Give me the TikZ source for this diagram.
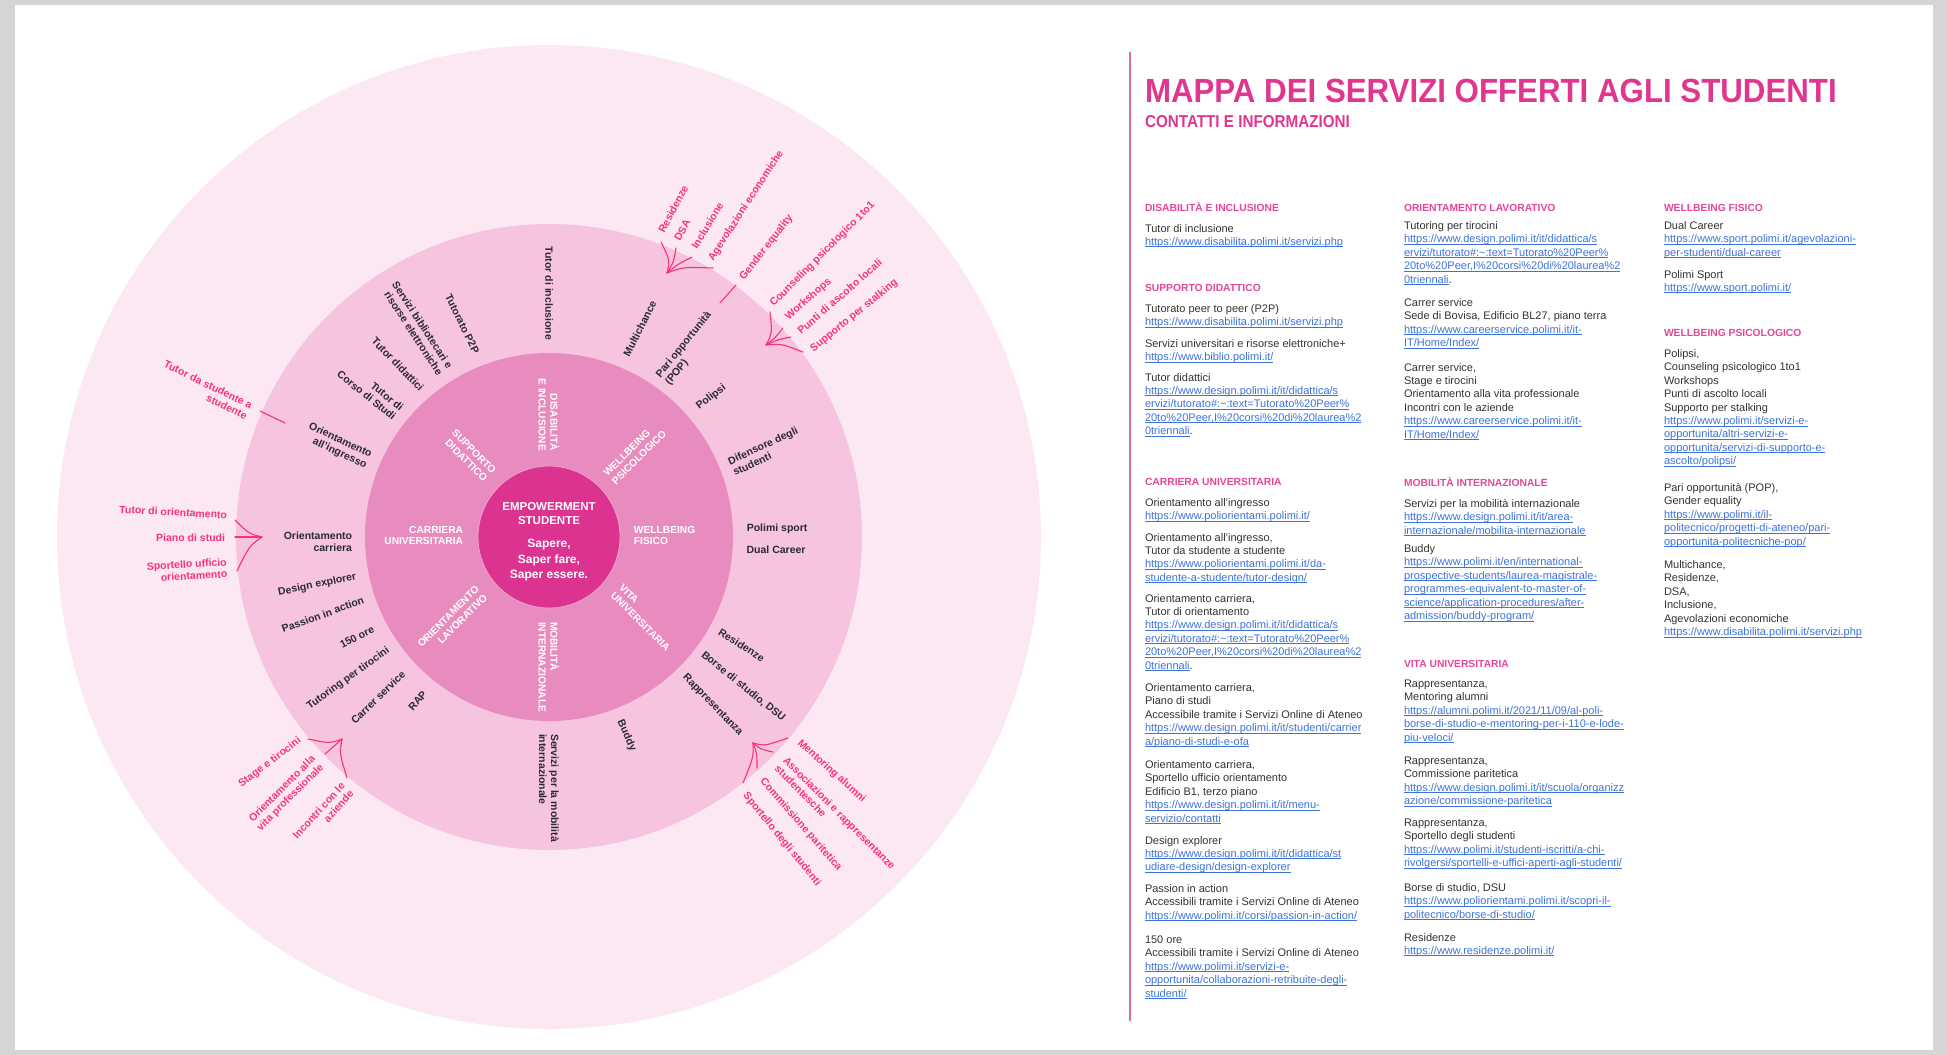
\documentclass[tikz,border=0pt]{standalone}
\usepackage{fontspec}
\setmainfont{Liberation Sans}
\usepackage{graphicx}
\usetikzlibrary{calc}
\definecolor{bgout}{HTML}{FCE8F2}
\definecolor{ringc}{HTML}{F6C4DF}
\definecolor{ringb}{HTML}{E88BBF}
\definecolor{corec}{HTML}{DC3290}
\definecolor{coreline}{HTML}{F0A3CB}
\definecolor{pinkt}{HTML}{F7327E}
\definecolor{titlec}{HTML}{E0368F}
\definecolor{headc}{HTML}{E4479A}
\definecolor{lkc}{HTML}{3C73DA}
\definecolor{bodyc}{HTML}{333333}
\definecolor{labc}{HTML}{2B2B2B}
\definecolor{framec}{HTML}{D5D5D5}
\definecolor{vlinec}{HTML}{E36AA5}
\newcommand\lk[1]{{\color{lkc}\setbox0\hbox{#1}\rlap{\rule[-1.7pt]{\wd0}{0.65pt}}\box0}}
\newcommand\st{\rule{0pt}{12pt}}
\newcommand\lab[7]{\node[#4,rotate=#3,anchor=#5] (#6) at ($(C)+(#1:#2)$) {#7};}
\newcommand\hd[4]{\node[colhead] (#3) at (#1,-#2) {\st #4};}
\newcommand\blk[4]{\node[colblk] (#3) at (#1,-#2) {\st #4};}
\tikzset{
 every node/.style={inner sep=0pt, outer sep=0pt},
 seclab/.style={text=white, font=\fontsize{10.2}{11.8}\selectfont\bfseries},
 ringlab/.style={text=labc, font=\fontsize{10.5}{12}\selectfont\bfseries},
 pinklab/.style={text=pinkt, font=\fontsize{10.5}{11.8}\selectfont\bfseries},
 strand/.style={draw=pinkt, line width=1.1pt, line cap=round},
 colhead/.style={anchor=north west, yshift=12pt, text=headc, font=\fontsize{10.3}{13.4}\selectfont\bfseries},
 colblk/.style={anchor=north west, yshift=12pt, align=left, text=bodyc, font=\fontsize{11}{13.4}\selectfont},
}
\begin{document}
\begin{tikzpicture}[x=1pt,y=1pt]
\useasboundingbox (0,0) rectangle (1947,-1055);
\fill[framec] (0,0) rectangle (1947,-1055);
\fill[white] (15,-5) rectangle (1933,-1050);
\coordinate (C) at (549,-537);
\fill[bgout] (C) circle (492);
\fill[ringc] (C) circle (313);
\fill[ringb] (C) circle (184);
\filldraw[fill=corec, draw=coreline, line width=0.8pt] (C) circle (71);

% centre
\node[align=center, text=white, font=\fontsize{11.5}{14}\selectfont\bfseries] (emp) at (549,-514) {EMPOWERMENT\\STUDENTE};
\node[align=center, text=white, font=\fontsize{12}{15.5}\selectfont\bfseries] (sap) at (549,-560.5) {Sapere,\\Saper fare,\\Saper essere.};

% sector labels
\lab{1}{85}{0}{seclab,align=left}{west}{wf}{WELLBEING\\FISICO}
\lab{44}{84}{45}{seclab,align=left}{west}{wp}{WELLBEING\\PSICOLOGICO}
\lab{90}{86}{-90}{seclab,align=right}{east}{di}{DISABILITÀ\\E INCLUSIONE}
\lab{134}{85}{-45}{seclab,align=right}{east}{sd}{SUPPORTO\\DIDATTICO}
\lab{179}{86}{0}{seclab,align=right}{east}{cu}{CARRIERA\\UNIVERSITARIA}
\lab{219}{87}{45}{seclab,align=right}{east}{ol}{ORIENTAMENTO\\LAVORATIVO}
\lab{-90}{85}{-90}{seclab,align=left}{west}{mi}{MOBILITÀ\\INTERNAZIONALE}
\lab{-38}{86}{-45}{seclab,align=left}{west}{vu}{VITA\\UNIVERSITARIA}

% services ring
\lab{90}{197}{-90}{ringlab,align=right}{east}{t1}{Tutor di inclusione}
\lab{111.5}{198}{-64}{ringlab}{east}{t2}{Tutorato P2P}
\lab{122}{196}{-57}{ringlab,align=right}{east}{t3}{Servizi bibliotecari e\\risorse elettroniche}
\lab{130.7}{195}{-46}{ringlab}{east}{t4}{Tutor didattici}
\lab{140.6}{195}{-39}{ringlab,align=right}{east}{t5}{Tutor di\\Corso di Studi}
\lab{157}{196}{-25}{ringlab,align=right}{east}{t6}{Orientamento\\all'ingresso}
\lab{181.5}{197}{0}{ringlab,align=right}{east}{t7}{Orientamento\\carriera}
\lab{191.6}{197}{12}{ringlab}{east}{t8}{Design explorer}
\lab{198.7}{196}{20}{ringlab}{east}{t9}{Passion in action}
\lab{207.5}{198}{27}{ringlab}{east}{t10}{150 ore}
\lab{215}{196}{36}{ringlab}{east}{t11}{Tutoring per tirocini}
\lab{223}{199}{44}{ringlab}{east}{t12}{Carrer service}
\lab{231.4}{199}{49}{ringlab}{east}{t13}{RAP}
\lab{-90}{197}{-90}{ringlab,align=left}{west}{t14}{Servizi per la mobilità\\internazionale}
\lab{-68.9}{197}{-66}{ringlab}{west}{t15}{Buddy}
\lab{-45.7}{194}{-46}{ringlab}{west}{t16}{Rappresentanza}
\lab{-37.2}{193}{-39}{ringlab}{west}{t17}{Borse di studio, DSU}
\lab{-29}{195}{-32}{ringlab}{west}{t18}{Residenze}
\lab{-3.6}{198}{0}{ringlab}{west}{t19}{Dual Career}
\lab{2.5}{198}{0}{ringlab}{west}{t20}{Polimi sport}
\lab{21}{195}{25}{ringlab,align=left}{west}{t21}{Difensore degli\\studenti}
\lab{41}{197}{38}{ringlab}{west}{t22}{Polipsi}
\lab{54}{194}{51}{ringlab,align=left}{west}{t23}{Pari opportunità\\(POP)}
\lab{67}{197}{63}{ringlab}{west}{t24}{Multichance}

% pink annotations
\node[pinklab,rotate=62,anchor=west] (p1) at (661,-232) {Residenze};
\node[pinklab,rotate=62,anchor=west] (p2) at (677,-240) {DSA};
\node[pinklab,rotate=59,anchor=west] (p3) at (694,-248) {Inclusione};
\node[pinklab,rotate=57,anchor=west] (p4) at (711,-260) {Agevolazioni economiche};
\node[pinklab,rotate=52,anchor=west] (p5) at (742,-279) {Gender equality};
\node[pinklab,rotate=45,anchor=west] (p6) at (772,-305) {Counseling psicologico 1to1};
\node[pinklab,rotate=41,anchor=west] (p7) at (787,-318) {Workshops};
\node[pinklab,rotate=41,anchor=west] (p8) at (799,-332) {Punti di ascolto locali};
\node[pinklab,rotate=39,anchor=west] (p9) at (812,-350) {Supporto per stalking};
\node[pinklab,rotate=-26,anchor=east,align=right] (p10) at (249,-411) {Tutor da studente a\\studente};
\node[pinklab,rotate=-3,anchor=east] (p11) at (227,-515) {Tutor di orientamento};
\node[pinklab,anchor=east] (p12) at (225,-538) {Piano di studi};
\node[pinklab,rotate=3,anchor=east,align=right] (p13) at (227,-568) {Sportello ufficio\\orientamento};
\node[pinklab,rotate=37,anchor=east] (p14) at (300,-740) {Stage e tirocini};
\node[pinklab,rotate=45,anchor=east,align=right] (p15) at (318,-762) {Orientamento alla\\vita professionale};
\node[pinklab,rotate=48,anchor=east,align=right] (p16) at (347,-788) {Incontri con le\\aziende};
\node[pinklab,rotate=-42,anchor=west] (p17) at (799,-742) {Mentoring alumni};
\node[pinklab,rotate=-45,anchor=west,align=left] (p18) at (781,-763) {Associazioni e rappresentanze\\studentesche};
\node[pinklab,rotate=-49,anchor=west] (p19) at (762,-780) {Commissione paritetica};
\node[pinklab,rotate=-51,anchor=west] (p20) at (745,-794) {Sportello degli studenti};

% brackets
\coordinate (T1) at (667,-273); \coordinate (M1) at (685,-254);
\coordinate (a1) at (661,-242); \coordinate (a2) at (676,-248); \coordinate (a3) at (692,-257); \coordinate (a4) at (713,-268);
\foreach \s in {a1,a2,a3,a4} \draw[strand] (\s) .. controls ($(T1)!0.5!($(\s)!0.5!(M1)$)$) .. (T1);
\coordinate (g1) at (736,-285); \coordinate (g2) at (720,-303);
\draw[strand] (g1) -- (g2);
\coordinate (T2) at (766,-345); \coordinate (M2) at (787,-332);
\coordinate (b1) at (770,-312); \coordinate (b2) at (783,-328); \coordinate (b3) at (791,-337); \coordinate (b4) at (803,-352);
\foreach \s in {b1,b2,b3,b4} \draw[strand] (\s) .. controls ($(T2)!0.5!($(\s)!0.5!(M2)$)$) .. (T2);
\coordinate (h1) at (260,-411); \coordinate (h2) at (285,-423);
\draw[strand] (h1) -- (h2);
\coordinate (T3) at (262,-537); \coordinate (M3) at (235,-540);
\coordinate (c1) at (235,-520); \coordinate (c2) at (235,-537); \coordinate (c3) at (237,-571);
\foreach \s in {c1,c2,c3} \draw[strand] (\s) .. controls ($(T3)!0.5!($(\s)!0.5!(M3)$)$) .. (T3);
\coordinate (T4) at (342,-739); \coordinate (M4) at (327,-757);
\coordinate (d1) at (308,-739); \coordinate (d2) at (325,-754); \coordinate (d3) at (347,-778);
\foreach \s in {d1,d2,d3} \draw[strand] (\s) .. controls ($(T4)!0.5!($(\s)!0.5!(M4)$)$) .. (T4);
\coordinate (T5) at (753,-743); \coordinate (M5) at (765,-760);
\coordinate (e1) at (788,-738); \coordinate (e2) at (773,-752); \coordinate (e3) at (757,-768); \coordinate (e4) at (743,-783);
\foreach \s in {e1,e2,e3,e4} \draw[strand] (\s) .. controls ($(T5)!0.5!($(\s)!0.5!(M5)$)$) .. (T5);

% right panel
\draw[vlinec, line width=1.5pt] (1130,-52) -- (1130,-1021);
\node[anchor=base west, text=titlec, font=\fontsize{33.5}{36}\selectfont\bfseries] (title) at (1145,-102) {\scalebox{0.933}[1]{MAPPA DEI SERVIZI OFFERTI AGLI STUDENTI}};
\node[anchor=base west, text=titlec, font=\fontsize{17.2}{19}\selectfont\bfseries] (sub) at (1145,-127) {\scalebox{0.885}[1]{CONTATTI E INFORMAZIONI}};

% column 1
\hd{1145}{211}{h11}{DISABILITÀ E INCLUSIONE}
\blk{1145}{232}{c11}{Tutor di inclusione\\ \lk{https://www.disabilita.polimi.it/servizi.php}}
\hd{1145}{291.5}{h12}{SUPPORTO DIDATTICO}
\blk{1145}{312.5}{c12}{Tutorato peer to peer (P2P)\\ \lk{https://www.disabilita.polimi.it/servizi.php}}
\blk{1145}{347.5}{c13}{Servizi universitari e risorse elettroniche+\\ \lk{https://www.biblio.polimi.it/}}
\blk{1145}{381}{c14}{Tutor didattici\\ \lk{https://www.design.polimi.it/it/didattica/s}\\ \lk{ervizi/tutorato\#:\textasciitilde:text=Tutorato\%20Peer\%}\\ \lk{20to\%20Peer,I\%20corsi\%20di\%20laurea\%2}\\ \lk{0triennali}.}
\hd{1145}{485.5}{h13}{CARRIERA UNIVERSITARIA}
\blk{1145}{506.5}{c15}{Orientamento all'ingresso\\ \lk{https://www.poliorientami.polimi.it/}}
\blk{1145}{541}{c16}{Orientamento all'ingresso,\\Tutor da studente a studente\\ \lk{https://www.poliorientami.polimi.it/da-}\\ \lk{studente-a-studente/tutor-design/}}
\blk{1145}{602}{c17}{Orientamento carriera,\\Tutor di orientamento\\ \lk{https://www.design.polimi.it/it/didattica/s}\\ \lk{ervizi/tutorato\#:\textasciitilde:text=Tutorato\%20Peer\%}\\ \lk{20to\%20Peer,I\%20corsi\%20di\%20laurea\%2}\\ \lk{0triennali}.}
\blk{1145}{691.5}{c18}{Orientamento carriera,\\Piano di studi\\Accessibile tramite i Servizi Online di Ateneo\\ \lk{https://www.design.polimi.it/it/studenti/carrier}\\ \lk{a/piano-di-studi-e-ofa}}
\blk{1145}{768.5}{c19}{Orientamento carriera,\\Sportello ufficio orientamento\\Edificio B1, terzo piano\\ \lk{https://www.design.polimi.it/it/menu-}\\ \lk{servizio/contatti}}
\blk{1145}{844}{c110}{Design explorer\\ \lk{https://www.design.polimi.it/it/didattica/st}\\ \lk{udiare-design/design-explorer}}
\blk{1145}{892.5}{c111}{Passion in action\\Accessibili tramite i Servizi Online di Ateneo\\ \lk{https://www.polimi.it/corsi/passion-in-action/}}
\blk{1145}{943.5}{c112}{150 ore\\Accessibili tramite i Servizi Online di Ateneo\\ \lk{https://www.polimi.it/servizi-e-}\\ \lk{opportunita/collaborazioni-retribuite-degli-}\\ \lk{studenti/}}

% column 2
\hd{1404}{211}{h21}{ORIENTAMENTO LAVORATIVO}
\blk{1404}{229.5}{c21}{Tutoring per tirocini\\ \lk{https://www.design.polimi.it/it/didattica/s}\\ \lk{ervizi/tutorato\#:\textasciitilde:text=Tutorato\%20Peer\%}\\ \lk{20to\%20Peer,I\%20corsi\%20di\%20laurea\%2}\\ \lk{0triennali}.}
\blk{1404}{306.5}{c22}{Carrer service\\Sede di Bovisa, Edificio BL27, piano terra\\ \lk{https://www.careerservice.polimi.it/it-}\\ \lk{IT/Home/Index/}}
\blk{1404}{371}{c23}{Carrer service,\\Stage e tirocini\\Orientamento alla vita professionale\\Incontri con le aziende\\ \lk{https://www.careerservice.polimi.it/it-}\\ \lk{IT/Home/Index/}}
\hd{1404}{486.5}{h22}{MOBILITÀ INTERNAZIONALE}
\blk{1404}{507.5}{c24}{Servizi per la mobilità internazionale\\ \lk{https://www.design.polimi.it/it/area-}\\ \lk{internazionale/mobilita-internazionale}}
\blk{1404}{552.5}{c25}{Buddy\\ \lk{https://www.polimi.it/en/international-}\\ \lk{prospective-students/laurea-magistrale-}\\ \lk{programmes-equivalent-to-master-of-}\\ \lk{science/application-procedures/after-}\\ \lk{admission/buddy-program/}}
\hd{1404}{667.5}{h23}{VITA UNIVERSITARIA}
\blk{1404}{687.5}{c26}{Rappresentanza,\\Mentoring alumni\\ \lk{https://alumni.polimi.it/2021/11/09/al-poli-}\\ \lk{borse-di-studio-e-mentoring-per-i-110-e-lode-}\\ \lk{piu-veloci/}}
\blk{1404}{764.5}{c27}{Rappresentanza,\\Commissione paritetica\\ \lk{https://www.design.polimi.it/it/scuola/organizz}\\ \lk{azione/commissione-paritetica}}
\blk{1404}{826.5}{c28}{Rappresentanza,\\Sportello degli studenti\\ \lk{https://www.polimi.it/studenti-iscritti/a-chi-}\\ \lk{rivolgersi/sportelli-e-uffici-aperti-agli-studenti/}}
\blk{1404}{891.5}{c29}{Borse di studio, DSU\\ \lk{https://www.poliorientami.polimi.it/scopri-il-}\\ \lk{politecnico/borse-di-studio/}}
\blk{1404}{941}{c210}{Residenze\\ \lk{https://www.residenze.polimi.it/}}

% column 3
\hd{1664}{211}{h31}{WELLBEING FISICO}
\blk{1664}{229.5}{c31}{Dual Career\\ \lk{https://www.sport.polimi.it/agevolazioni-}\\ \lk{per-studenti/dual-career}}
\blk{1664}{278}{c32}{Polimi Sport\\ \lk{https://www.sport.polimi.it/}}
\hd{1664}{336.5}{h32}{WELLBEING PSICOLOGICO}
\blk{1664}{357.5}{c33}{Polipsi,\\Counseling psicologico 1to1\\Workshops\\Punti di ascolto locali\\Supporto per stalking\\ \lk{https://www.polimi.it/servizi-e-}\\ \lk{opportunita/altri-servizi-e-}\\ \lk{opportunita/servizi-di-supporto-e-}\\ \lk{ascolto/polipsi/}}
\blk{1664}{491.5}{c34}{Pari opportunità (POP),\\Gender equality\\ \lk{https://www.polimi.it/il-}\\ \lk{politecnico/progetti-di-ateneo/pari-}\\ \lk{opportunita-politecniche-pop/}}
\blk{1664}{568.5}{c35}{Multichance,\\Residenze,\\DSA,\\Inclusione,\\Agevolazioni economiche\\ \lk{https://www.disabilita.polimi.it/servizi.php}}
\end{tikzpicture}
\end{document}
